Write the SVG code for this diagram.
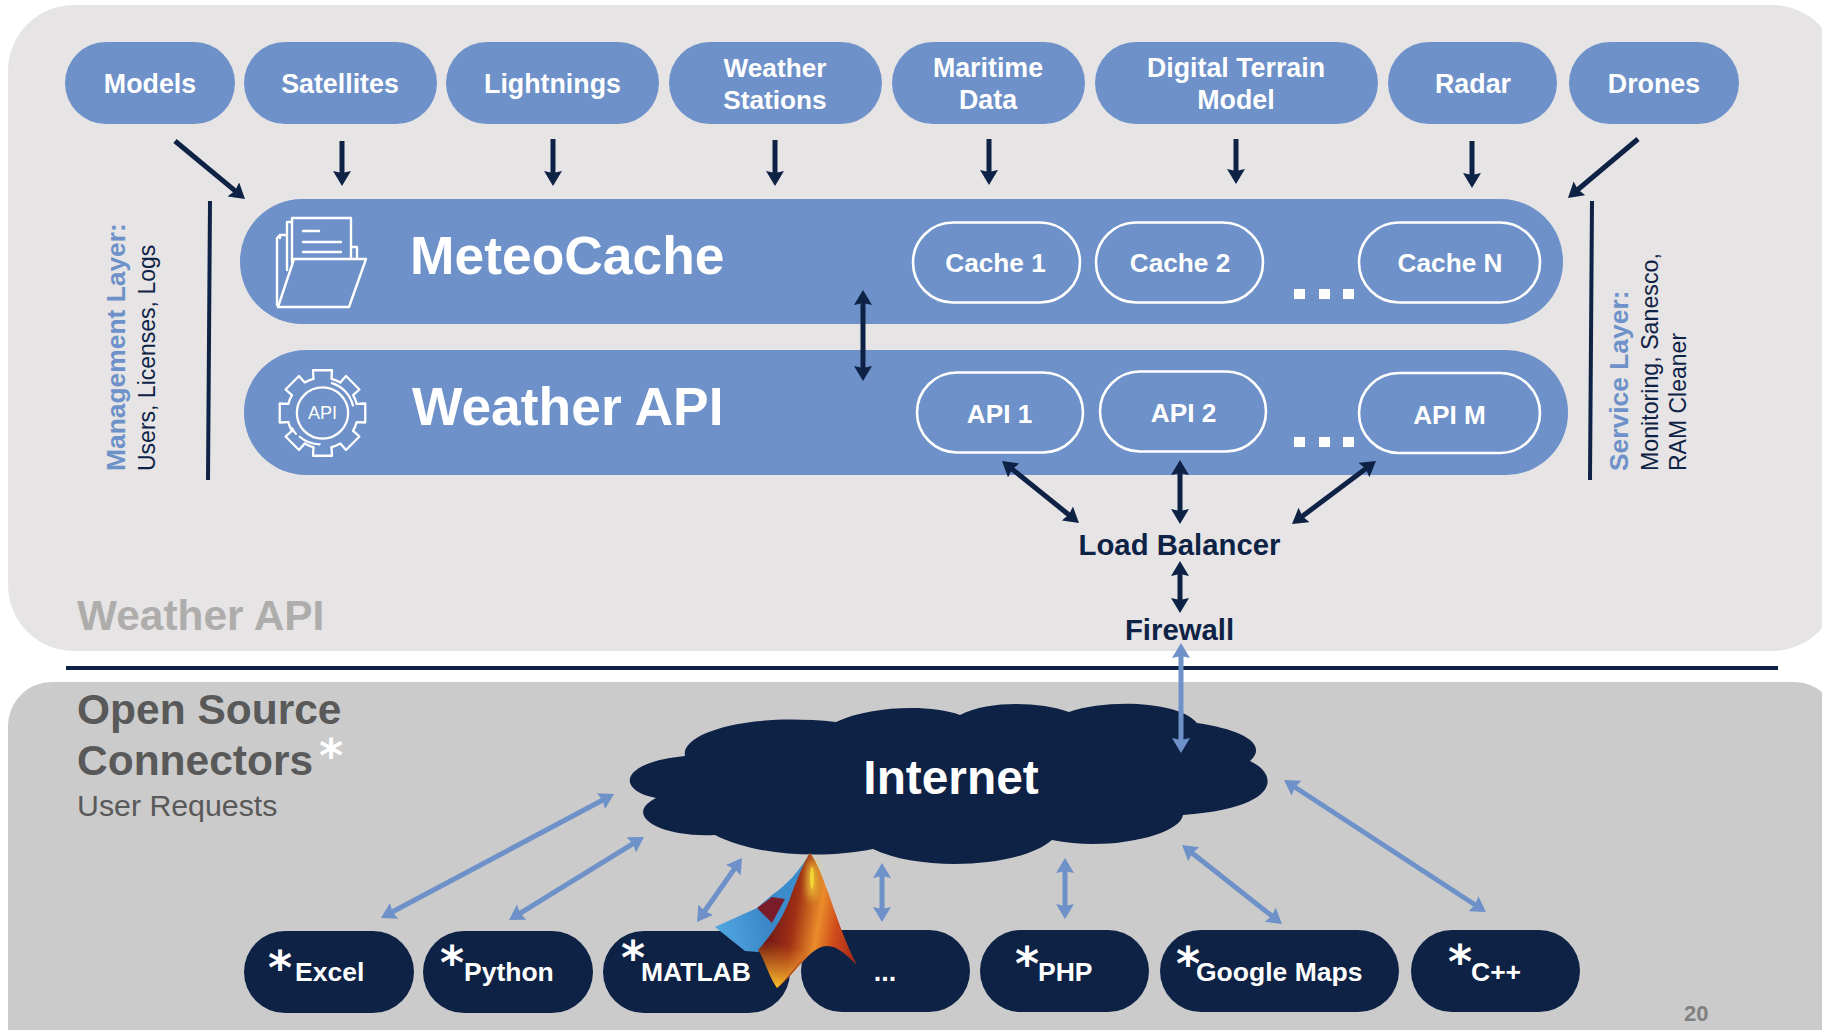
<svg xmlns="http://www.w3.org/2000/svg" width="1822" height="1030" viewBox="0 0 1822 1030">
<style>
text{font-family:"Liberation Sans",Arial,sans-serif}
.b{font-weight:700}
.pill{fill:#6d91c8}
.ghost{fill:none;stroke:#fff;stroke-width:2.6}
.navy{fill:#0e2245}
.t26{font-size:26.8px;font-weight:700;fill:#fff;text-anchor:middle}
.t26s{font-size:26.2px;font-weight:700;fill:#fff;text-anchor:middle}
.ast{font-family:"DejaVu Sans",sans-serif;font-size:46px;font-weight:700;fill:#fff}
.lab{font-size:26.5px;font-weight:700;fill:#fff}
.big{font-size:53.4px;font-weight:700;fill:#fff}
.dark{fill:none;stroke:#0e2245;stroke-width:5;marker-end:url(#hd)}
.darkb{fill:none;stroke:#0e2245;stroke-width:5;marker-start:url(#hd);marker-end:url(#hd)}
.lite{fill:none;stroke:#6d91c8;stroke-width:5;marker-start:url(#hl);marker-end:url(#hl)}
.ic{fill:none;stroke:#fff;stroke-width:2.4;stroke-linejoin:round;stroke-linecap:round}
.dot{fill:#fff}
</style>
<defs>
<marker id="hd" markerUnits="userSpaceOnUse" markerWidth="18" markerHeight="18" refX="5" refY="9" orient="auto-start-reverse"><path d="M0,0L15,9L0,18L2,9Z" fill="#0e2245"/></marker>
<marker id="hl" markerUnits="userSpaceOnUse" markerWidth="18" markerHeight="18" refX="5" refY="9" orient="auto-start-reverse"><path d="M0,0L15,9L0,18L2,9Z" fill="#6d91c8"/></marker>
<linearGradient id="peak" gradientUnits="userSpaceOnUse" x1="768" y1="915" x2="855" y2="930"><stop offset="0" stop-color="#6e1712"/><stop offset=".3" stop-color="#a03015"/><stop offset=".58" stop-color="#ea8c2a"/><stop offset=".78" stop-color="#d04c1c"/><stop offset="1" stop-color="#ad2f18"/></linearGradient>
<linearGradient id="foot" gradientUnits="userSpaceOnUse" x1="775" y1="988" x2="785" y2="945"><stop offset="0" stop-color="#f8c42e"/><stop offset="1" stop-color="#f09a28" stop-opacity="0"/></linearGradient>
<linearGradient id="leaf" gradientUnits="userSpaceOnUse" x1="720" y1="940" x2="770" y2="930"><stop offset="0" stop-color="#50a6e0"/><stop offset="1" stop-color="#3a86c8"/></linearGradient>
<filter id="soft" x="-10%" y="-10%" width="120%" height="120%"><feGaussianBlur stdDeviation="0.7"/></filter>
<filter id="glow" x="-100%" y="-50%" width="300%" height="200%"><feGaussianBlur stdDeviation="4"/></filter>
<path id="seg" d="M-9.5,-36L-10,-45L10,-45L9.5,-36A37,37 0 0 1 18.74,-32.17" class="ic"/>
</defs>
<rect width="1822" height="1030" fill="#fff"/>
<rect x="8" y="5" width="1830" height="646" rx="66" fill="#e6e4e5"/>
<rect x="8" y="682" width="1830" height="400" rx="44" fill="#cbcbcb"/>
<rect x="66" y="666" width="1712" height="4" class="navy"/>
<text class="b" x="77" y="630" font-size="42.4" fill="#afadac">Weather API</text>
<text class="b" x="77" y="724" font-size="42.5" fill="#595959">Open Source</text>
<text class="b" x="77" y="775" font-size="42.5" fill="#595959">Connectors</text>
<text class="ast" x="319" y="772">*</text>
<text x="77" y="816" font-size="30.3" fill="#595959">User Requests</text>
<text class="b" x="1684" y="1021" font-size="22" fill="#808080">20</text>

<g id="sidebars">
<path d="M210,201L208,480M1592,201L1590,480" stroke="#0e2245" stroke-width="4" fill="none"/>
<text class="b" transform="translate(125,471) rotate(-90)" font-size="26.4" fill="#6d91c8">Management Layer:</text>
<text transform="translate(155,471) rotate(-90)" font-size="23" fill="#0e2245">Users, Licenses, Logs</text>
<text class="b" transform="translate(1628,471) rotate(-90)" font-size="26.4" fill="#6d91c8">Service Layer:</text>
<text transform="translate(1658,471) rotate(-90)" font-size="23.2" fill="#0e2245">Monitoring, Sanesco,</text>
<text transform="translate(1686,471) rotate(-90)" font-size="23" fill="#0e2245">RAM Cleaner</text>
</g>

<g id="src-models"><rect x="65" y="42" width="170" height="82" rx="41" class="pill"/><text class="t26" x="150" y="93">Models</text></g>
<g id="src-satellites"><rect x="244" y="42" width="193" height="82" rx="41" class="pill"/><text class="t26" x="340" y="93">Satellites</text></g>
<g id="src-lightnings"><rect x="446" y="42" width="213" height="82" rx="41" class="pill"/><text class="t26" x="552.500" y="93">Lightnings</text></g>
<g id="src-stations"><rect x="669" y="42" width="213" height="82" rx="41" class="pill"/><text class="t26s" x="775" y="77">Weather</text><text class="t26s" x="775" y="109">Stations</text></g>
<g id="src-maritime"><rect x="892" y="42" width="193" height="82" rx="41" class="pill"/><text class="t26" x="988" y="77">Maritime</text><text class="t26" x="988" y="109">Data</text></g>
<g id="src-dtm"><rect x="1095" y="42" width="283" height="82" rx="41" class="pill"/><text class="t26" x="1236" y="77">Digital Terrain</text><text class="t26" x="1236" y="109">Model</text></g>
<g id="src-radar"><rect x="1388" y="42" width="169" height="82" rx="41" class="pill"/><text class="t26" x="1473" y="93">Radar</text></g>
<g id="src-drones"><rect x="1569" y="42" width="170" height="82" rx="41" class="pill"/><text class="t26" x="1654" y="93">Drones</text></g>

<g id="meteocache">
<rect x="240" y="199" width="1323" height="125" rx="62" class="pill"/>
<path class="ic" d="M292,262V218H351V258M287,270V222H292M280,238V235H287M277,305V238L280,235M351,247H357V258M294,259H366L349,307H278ZM303,231H319M303,242H341M303,252H341"/>
<text class="big" x="410" y="274">MeteoCache</text>
<g id="cache-1"><rect x="913" y="222.500" width="167" height="80" rx="40" class="ghost"/><text class="t26s" x="995.500" y="272">Cache 1</text></g>
<g id="cache-2"><rect x="1096" y="222.500" width="167" height="80" rx="40" class="ghost"/><text class="t26s" x="1180" y="272">Cache 2</text></g>
<g id="cache-n"><rect x="1359" y="222.500" width="181" height="80" rx="40" class="ghost"/><text class="t26s" x="1450" y="272">Cache N</text></g>
<rect x="1294" y="289" width="11" height="10" class="dot"/><rect x="1319" y="289" width="11" height="10" class="dot"/><rect x="1343" y="289" width="11" height="10" class="dot"/>
</g>

<g id="weather-api">
<rect x="244" y="350" width="1324" height="125" rx="62" class="pill"/>
<g transform="translate(322.500,413) scale(.95)">
<use href="#seg"/><use href="#seg" transform="rotate(45)"/><use href="#seg" transform="rotate(90)"/><use href="#seg" transform="rotate(135)"/><use href="#seg" transform="rotate(180)"/><use href="#seg" transform="rotate(225)"/><use href="#seg" transform="rotate(270)"/><use href="#seg" transform="rotate(315)"/>
<circle r="27" class="ic"/>
<path class="ic" d="M10,-31.500A33,33 0 0 1 32,-8M-32,16A36,36 0 0 0 -28,22M-24,25A33,33 0 0 0 -3,33"/>
<text x="0" y="6.500" font-size="19" fill="#fff" text-anchor="middle">API</text>
</g>
<text class="big" x="412" y="425">Weather API</text>
<g id="api-1"><rect x="917" y="372.500" width="166" height="80" rx="40" class="ghost"/><text class="t26s" x="999.500" y="423">API 1</text></g>
<g id="api-2"><rect x="1100" y="371.500" width="166" height="80" rx="40" class="ghost"/><text class="t26s" x="1183.500" y="422">API 2</text></g>
<g id="api-m"><rect x="1359" y="373" width="181" height="80" rx="40" class="ghost"/><text class="t26s" x="1449.500" y="424">API M</text></g>
<rect x="1294" y="437" width="11" height="10" class="dot"/><rect x="1319" y="437" width="11" height="10" class="dot"/><rect x="1343" y="437" width="11" height="10" class="dot"/>
</g>

<g id="load-balancer"><text class="b" x="1179.500" y="555" font-size="29.3" fill="#0e2245" text-anchor="middle">Load Balancer</text></g>
<g id="firewall"><text class="b" x="1179.500" y="640" font-size="29.3" fill="#0e2245" text-anchor="middle">Firewall</text></g>

<g id="internet">
<path class="navy" d="M685,756C680,735 740,712 836,722C870,706 930,704 960,715C990,700 1040,702 1069,712C1110,698 1180,702 1197,723C1245,730 1268,745 1250,761C1280,775 1280,808 1183,815C1180,835 1110,852 1052,840C1020,868 920,872 873,849C830,858 760,858 715,835C660,838 622,815 656,798C615,790 620,762 685,756Z"/>
<text class="b" x="951" y="794" font-size="47.8" fill="#fff" text-anchor="middle">Internet</text>
</g>

<g id="conn-excel"><rect x="244" y="931" width="170" height="82" rx="41" class="navy"/><text class="ast" x="268" y="984">*</text><text class="lab" x="295" y="981">Excel</text></g>
<g id="conn-python"><rect x="423" y="931" width="170" height="82" rx="41" class="navy"/><text class="ast" x="440" y="979">*</text><text class="lab" x="464" y="981">Python</text></g>
<g id="conn-matlab"><rect x="603" y="931" width="187" height="82" rx="41" class="navy"/><text class="ast" x="621" y="974">*</text><text class="lab" x="641" y="981">MATLAB</text></g>
<g id="conn-more"><rect x="801" y="930" width="169" height="82" rx="41" class="navy"/><text class="t26" x="885" y="981">...</text></g>
<g id="conn-php"><rect x="980" y="930" width="169" height="82" rx="41" class="navy"/><text class="ast" x="1015" y="980">*</text><text class="lab" x="1038" y="981">PHP</text></g>
<g id="conn-gmaps"><rect x="1160" y="930" width="239" height="82" rx="41" class="navy"/><text class="ast" x="1176" y="980">*</text><text class="lab" x="1196" y="981">Google Maps</text></g>
<g id="conn-cpp"><rect x="1411" y="930" width="169" height="82" rx="41" class="navy"/><text class="ast" x="1448" y="978">*</text><text class="lab" x="1471" y="981">C++</text></g>

<g id="connectors">
<path class="dark" d="M175,141L237.3,192.6"/>
<path class="dark" d="M342,141V176"/>
<path class="dark" d="M553,139V176"/>
<path class="dark" d="M775,140V176"/>
<path class="dark" d="M989,139V175"/>
<path class="dark" d="M1236,139V174"/>
<path class="dark" d="M1472,141V178"/>
<path class="dark" d="M1638,139L1575.6,191.5"/>
<path class="darkb" d="M863,300V371"/>
<path class="darkb" d="M1009.8,467.3L1071.2,516.7"/>
<path class="darkb" d="M1180,470V514"/>
<path class="darkb" d="M1368,467L1300,518"/>
<path class="darkb" d="M1180,571V603"/>
<path class="lite" d="M1181,653V743"/>
<path class="lite" d="M389.8,913.3L605.2,798.7"/>
<path class="lite" d="M517.5,914.8L635.5,842.2"/>
<path class="lite" d="M702.8,913.8L736.2,866.2"/>
<path class="lite" d="M882,873V912"/>
<path class="lite" d="M1065,868V909"/>
<path class="lite" d="M1189.9,851.2L1274.1,917.8"/>
<path class="lite" d="M1292.4,785.5L1477.6,906.5"/>
</g>

<g id="matlab-logo" filter="url(#soft)">
<path fill="#3a8ccd" d="M810,853C800,870 787,885 772,895L757,908L772,925L785,935L805,890C808,875 810,865 810,853Z"/>
<path fill="url(#leaf)" d="M757,908L715,927L745,951L758,952L785,930L772,918Z"/>
<path fill="#7a1f2c" d="M757,908L772,897L785,899L772,923Z"/>
<path fill="url(#peak)" d="M810,853C824,870 838,930 857,965C846,955 838,946 827,946C810,946 795,975 777,988C768,975 765,960 758,950C772,935 785,915 793,890C799,875 805,860 810,853Z"/>
<ellipse cx="812" cy="880" rx="4" ry="20" fill="#f6e03a" filter="url(#glow)"/>
<ellipse cx="812" cy="878" rx="2" ry="11" fill="#f6e03a" opacity=".8"/>
<path fill="url(#foot)" d="M777,988C768,975 765,960 758,950L775,932L810,950C795,966 785,982 777,988Z"/>
</g>
</svg>
